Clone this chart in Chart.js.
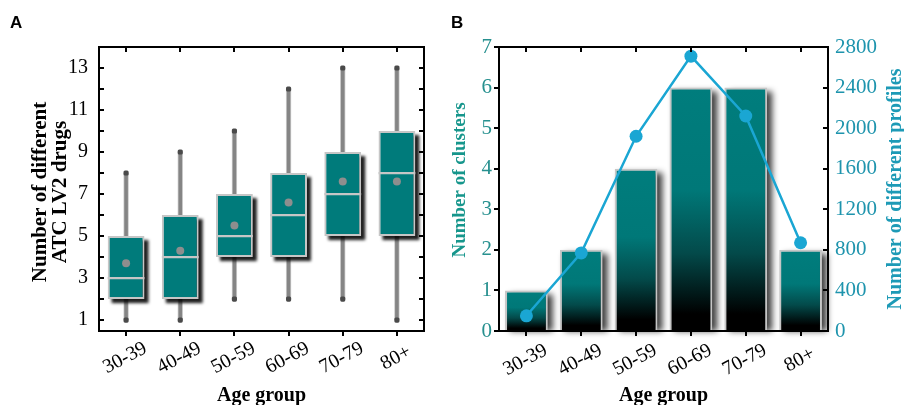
<!DOCTYPE html>
<html><head><meta charset="utf-8">
<script src="https://cdn.jsdelivr.net/npm/chart.js@4.4.1/dist/chart.umd.min.js"></script>
<style>
html,body{margin:0;padding:0;background:#fff;width:904px;height:405px;overflow:hidden}
#ca{position:absolute;left:0;top:0}
#cb{position:absolute;left:440px;top:0}
</style></head><body>
<canvas id="ca" width="440" height="405"></canvas>
<canvas id="cb" width="464" height="405"></canvas>
<script>
// ---------- data ----------
const ageGroups = ['30-39','40-49','50-59','60-69','70-79','80+'];
// Panel A: box plots of number of different ATC LV2 drugs
const drugMin    = [1, 1, 2, 2, 2, 1];
const drugQ1     = [2, 2, 4, 4, 5, 5];
const drugMedian = [3, 4, 5, 6, 7, 8];
const drugQ3     = [5, 6, 7, 8, 9, 10];
const drugMax    = [8, 9, 10, 12, 13, 13];
const drugMean   = [3.7, 4.3, 5.5, 6.6, 7.6, 7.6];
const drugTicks  = [1, 3, 5, 7, 9, 11, 13];
// Panel B: clusters (bars) and different profiles (line)
const clusters     = [1, 2, 4, 6, 6, 2];
const profiles     = [150, 770, 1920, 2710, 2120, 870];
const clusterTicks = [0, 1, 2, 3, 4, 5, 6, 7];
const profileTicks = [0, 400, 800, 1200, 1600, 2000, 2400, 2800];

// ---------- style ----------
const SERIF = "'Liberation Serif','Times New Roman',serif";
const SANS = "'Liberation Sans',Arial,sans-serif";
const TEAL = '#007b7b';
const BORDER = '#c6c6c6';

// shadow plugin: draws blurred shadow under bar elements of datasets flagged with `shadow`
const shadowPlugin = {
  id: 'shadowPlugin',
  beforeDatasetDraw(chart, args) {
    const ds = chart.data.datasets[args.index];
    if (!ds.shadow) return;
    const s = ds.shadow, ctx = chart.ctx;
    ctx.save();
    ctx.filter = 'blur(' + s.blur + 'px)';
    ctx.fillStyle = s.color;
    args.meta.data.forEach(el => {
      const p = el.getProps(['x', 'y', 'base', 'width'], true);
      const top = Math.min(p.y, p.base), h = Math.abs(p.base - p.y);
      ctx.fillRect(p.x - p.width / 2 + s.dx, top + s.dy, p.width, h - (s.cut || 0));
    });
    ctx.restore();
  }
};

function makeDecor(o) {
  return {
    id: 'decor',
    afterDraw(chart) {
      const ctx = chart.ctx, a = chart.chartArea, xs = chart.scales.x;
      ctx.save();
      ctx.strokeStyle = '#000';
      ctx.lineWidth = 2;
      ctx.lineCap = 'butt';
      const L = 5;
      const line = (x1, y1, x2, y2) => { ctx.beginPath(); ctx.moveTo(x1, y1); ctx.lineTo(x2, y2); ctx.stroke(); };
      // x ticks: top inward, bottom outward
      ageGroups.forEach((g, i) => {
        const px = Math.round(xs.getPixelForValue(i));
        line(px, a.top, px, a.top + L);
        line(px, a.bottom, px, a.bottom + L);
      });
      // left ticks
      const yl = chart.scales[o.leftId];
      o.leftMarks.forEach(v => {
        const py = Math.round(yl.getPixelForValue(v));
        if (o.leftOut) line(a.left - L, py, a.left, py); else line(a.left, py, a.left + L, py);
      });
      const yr = chart.scales[o.rightId];
      o.rightMarks.forEach(v => {
        const py = Math.round(yr.getPixelForValue(v));
        line(a.right - L, py, a.right, py);
      });
      // frame
      ctx.strokeRect(a.left, a.top, a.right - a.left, a.bottom - a.top);
      // x labels (rotated)
      ctx.fillStyle = '#000';
      ctx.font = '20px ' + SERIF;
      ctx.textAlign = 'center';
      ctx.textBaseline = 'middle';
      ageGroups.forEach((g, i) => {
        const px = xs.getPixelForValue(i);
        ctx.save();
        ctx.translate(px - 1, a.bottom + o.labelDy);
        ctx.rotate(-28 * Math.PI / 180);
        ctx.fillText(g, 0, 0);
        ctx.restore();
      });
      // x title
      ctx.font = 'bold 20px ' + SERIF;
      ctx.textBaseline = 'alphabetic';
      ctx.fillText('Age group', (a.left + a.right) / 2, 401);
      // y titles
      o.yTitles.forEach(t => {
        ctx.save();
        ctx.fillStyle = t.color;
        ctx.font = 'bold ' + t.size + 'px ' + SERIF;
        ctx.translate(t.x, t.y);
        ctx.rotate(-Math.PI / 2);
        ctx.textAlign = 'center';
        ctx.textBaseline = 'alphabetic';
        ctx.fillText(t.text, 0, 0);
        ctx.restore();
      });
      // panel letter
      ctx.fillStyle = '#000';
      ctx.font = 'bold 17px ' + SANS;
      ctx.textAlign = 'left';
      ctx.fillText(o.letter, o.letterX, 28);
      ctx.restore();
    }
  };
}

Chart.defaults.animation = false;
Chart.defaults.font.family = SERIF;

// ---------- Panel A ----------
const allIntsA = [1,2,3,4,5,6,7,8,9,10,11,12,13];
new Chart(document.getElementById('ca'), {
  type: 'bar',
  data: {
    labels: ageGroups,
    datasets: [
      { // whiskers
        data: ageGroups.map((g, i) => [drugMin[i], drugMax[i]]),
        backgroundColor: '#858585', borderColor: '#d0d0d0', borderWidth: 1, borderSkipped: false,
        barThickness: 5, grouped: false, order: 5
      },
      { // whisker caps
        type: 'line',
        data: ageGroups.flatMap((g, i) => [{ x: g, y: drugMin[i] }, { x: g, y: drugMax[i] }]),
        showLine: false, pointStyle: 'rectRounded', pointRadius: 3, pointBorderWidth: 0,
        pointBackgroundColor: '#4a4a4a', order: 4.5
      },
      { // boxes
        data: ageGroups.map((g, i) => [drugQ1[i], drugQ3[i]]),
        backgroundColor: TEAL, borderColor: BORDER, borderWidth: 2, borderSkipped: false,
        barPercentage: 0.68, categoryPercentage: 1, grouped: false, order: 4,
        shadow: { dx: 4, dy: 4, blur: 1.5, color: 'rgba(0,0,0,0.88)' }
      },
      { // medians
        data: ageGroups.map((g, i) => [drugMedian[i] - 0.055, drugMedian[i] + 0.055]),
        backgroundColor: BORDER, borderWidth: 0,
        barPercentage: 0.68, categoryPercentage: 1, grouped: false, order: 3
      },
      { // means
        type: 'line', data: drugMean, showLine: false,
        pointRadius: 4, pointBorderWidth: 0, pointBackgroundColor: '#8e8e8e', order: 1
      }
    ]
  },
  options: {
    responsive: false,
    layout: { padding: { left: 0, right: 16, top: 47, bottom: 0 } },
    plugins: { legend: { display: false }, tooltip: { enabled: false } },
    scales: {
      x: {
        type: 'category', offset: true,
        grid: { display: false, drawTicks: false }, border: { display: false },
        ticks: { display: false },
        afterFit: s => { s.height = 74; }
      },
      y: {
        min: 0.48, max: 14,
        grid: { display: false, drawTicks: false }, border: { display: false },
        afterBuildTicks: s => { s.ticks = drugTicks.map(v => ({ value: v })); },
        ticks: { color: '#000', font: { size: 20, family: SERIF }, padding: 11, callback: v => String(v) },
        afterFit: s => { s.width = 99; }
      }
    }
  },
  plugins: [shadowPlugin, makeDecor({
    leftId: 'y', rightId: 'y', leftOut: false, leftMarks: allIntsA, rightMarks: allIntsA,
    labelDy: 27, letter: 'A', letterX: 10,
    yTitles: [
      { text: 'Number of different', x: 46, y: 192, size: 21, color: '#000' },
      { text: 'ATC LV2 drugs', x: 66, y: 192, size: 21, color: '#000' }
    ]
  })]
});

// ---------- Panel B ----------
function barGradient(c) {
  const chart = c.chart, area = chart.chartArea;
  if (!area || c.type !== 'data') return TEAL;
  const ys = chart.scales.y;
  const top = ys.getPixelForValue(c.raw), bot = ys.getPixelForValue(0);
  const g = chart.ctx.createLinearGradient(0, top, 0, bot);
  g.addColorStop(0, '#007d7d');
  g.addColorStop(0.42, '#007878');
  g.addColorStop(0.68, '#034a4a');
  g.addColorStop(0.93, '#000000');
  g.addColorStop(1, '#000000');
  return g;
}
new Chart(document.getElementById('cb'), {
  type: 'bar',
  data: {
    labels: ageGroups,
    datasets: [
      {
        type: 'line', data: profiles, yAxisID: 'y2',
        borderColor: '#1aa6d3', borderWidth: 2.5, pointRadius: 6.5, pointBorderWidth: 0,
        pointBackgroundColor: '#1aa6d3', tension: 0, order: 1
      },
      {
        data: clusters, yAxisID: 'y',
        backgroundColor: barGradient, borderColor: BORDER, borderWidth: 2,
        barPercentage: 0.78, categoryPercentage: 1, order: 2,
        shadow: { dx: 5, dy: 4, blur: 3, color: 'rgba(0,0,0,0.75)', cut: 4 }
      }
    ]
  },
  options: {
    responsive: false,
    layout: { padding: { left: 0, right: 0, top: 47, bottom: 0 } },
    plugins: { legend: { display: false }, tooltip: { enabled: false } },
    scales: {
      x: {
        type: 'category', offset: true,
        grid: { display: false, drawTicks: false }, border: { display: false },
        ticks: { display: false },
        afterFit: s => { s.height = 74; }
      },
      y: {
        position: 'left', min: 0, max: 7,
        grid: { display: false, drawTicks: false }, border: { display: false },
        afterBuildTicks: s => { s.ticks = clusterTicks.map(v => ({ value: v })); },
        ticks: { color: '#27908f', font: { size: 21, family: SERIF }, padding: 7, callback: v => String(v) },
        afterFit: s => { s.width = 59; }
      },
      y2: {
        position: 'right', min: 0, max: 2800,
        grid: { display: false, drawTicks: false }, border: { display: false },
        afterBuildTicks: s => { s.ticks = profileTicks.map(v => ({ value: v })); },
        ticks: { color: '#1e94ad', font: { size: 21, family: SERIF }, padding: 7, callback: v => String(v) },
        afterFit: s => { s.width = 76; }
      }
    }
  },
  plugins: [shadowPlugin, makeDecor({
    leftId: 'y', rightId: 'y2', leftOut: true, leftMarks: clusterTicks, rightMarks: profileTicks,
    labelDy: 29, letter: 'B', letterX: 11,
    yTitles: [
      { text: 'Number of clusters', x: 25, y: 180, size: 19, color: '#16968c' },
      { text: 'Number of different profiles', x: 461, y: 189, size: 20, color: '#1d9ab6' }
    ]
  })]
});
</script>
</body></html>
